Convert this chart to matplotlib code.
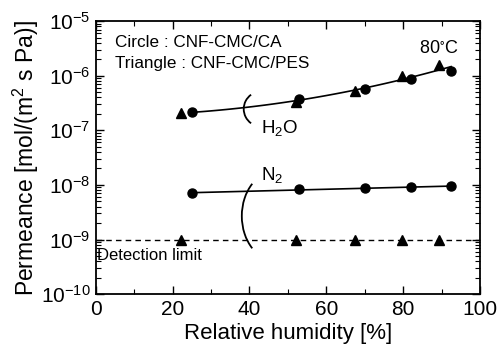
import matplotlib
matplotlib.use('Agg')
import matplotlib.pyplot as plt
from matplotlib.patches import Arc
from matplotlib.ticker import LogLocator, MultipleLocator, NullFormatter
import numpy as np

plt.rcParams['font.family'] = ['Liberation Sans', 'DejaVu Sans']
plt.rcParams['mathtext.fontset'] = 'custom'
plt.rcParams['mathtext.rm'] = 'Liberation Sans'
plt.rcParams['mathtext.it'] = 'Liberation Sans:italic'
plt.rcParams['mathtext.default'] = 'regular'

# CNF-CMC/CA (circles)
rh_ca = [25, 52.9, 70, 82, 92.5]
h2o_ca = [2.15e-7, 3.7e-7, 5.7e-7, 8.7e-7, 1.2e-6]
n2_ca = [7.1e-9, 8.3e-9, 8.7e-9, 9.0e-9, 9.5e-9]

# CNF-CMC/PES (triangles)
rh_pes = [22.1, 52, 67.5, 79.7, 89.4]
h2o_pes = [2.07e-7, 3.3e-7, 5.2e-7, 1.0e-6, 1.56e-6]
n2_pes = [1e-9, 1e-9, 1e-9, 1e-9, 1e-9]

detection_limit = 1e-9

fig = plt.figure(figsize=(5.02, 3.51), dpi=100)
ax = fig.add_axes([0.191, 0.162, 0.765, 0.778])

# 拟合曲线
x_all = np.array(rh_ca + rh_pes)
y_all = np.log10(np.array(h2o_ca + h2o_pes))
p_h2o = np.polyfit(x_all, y_all, 2)
xf = np.linspace(min(rh_ca), max(rh_ca), 100)
ax.plot(xf, 10 ** np.polyval(p_h2o, xf), color='black', lw=1.2)

p_n2 = np.polyfit(rh_ca, np.log10(n2_ca), 1)
ax.plot(xf, 10 ** np.polyval(p_n2, xf), color='black', lw=1.2)

ax.axhline(detection_limit, color='black', lw=1.0, ls=(0, (4, 3)))

ax.plot(rh_ca, h2o_ca, 'o', color='black', ms=6.5)
ax.plot(rh_pes, h2o_pes, '^', color='black', ms=7.5)
ax.plot(rh_ca, n2_ca, 'o', color='black', ms=6.5)
ax.plot(rh_pes, n2_pes, '^', color='black', ms=7.5)

# 括号
ax.add_patch(Arc((0.432, 0.678), 0.094, 0.13, theta1=118, theta2=242,
                 transform=ax.transAxes, color='black', lw=1.3))
ax.add_patch(Arc((0.47, 0.286), 0.18, 0.33, theta1=118, theta2=242,
                 transform=ax.transAxes, color='black', lw=1.3))

ax.text(0.43, 0.59, 'H$_2$O', transform=ax.transAxes, fontsize=13.5)
ax.text(0.43, 0.418, 'N$_2$', transform=ax.transAxes, fontsize=13.5)
ax.text(0.05, 0.92, 'Circle : CNF-CMC/CA', transform=ax.transAxes, fontsize=12.3, va='center')
ax.text(0.05, 0.845, 'Triangle : CNF-CMC/PES', transform=ax.transAxes, fontsize=12.3, va='center')
ax.text(0.943, 0.9, '80$^{\\circ}$C', transform=ax.transAxes, fontsize=13, ha='right', va='center')
ax.text(0.003, 0.14, 'Detection limit', transform=ax.transAxes, fontsize=12, va='center')

ax.set_yscale('log')
ax.set_xlim(0, 100)
ax.set_ylim(1e-10, 1e-5)
ax.xaxis.set_major_locator(MultipleLocator(20))
ax.xaxis.set_minor_locator(MultipleLocator(10))
ax.yaxis.set_major_locator(LogLocator(base=10, numticks=10))
ax.yaxis.set_minor_locator(LogLocator(base=10, subs=np.arange(2, 10), numticks=20))
ax.yaxis.set_minor_formatter(NullFormatter())

ax.tick_params(which='both', direction='in', top=True, right=True, labelsize=15, pad=4)
ax.tick_params(which='major', length=6, width=1.0)
ax.tick_params(which='minor', length=3.5, width=0.8)
for s in ax.spines.values():
    s.set_linewidth(1.3)

ax.set_xlabel('Relative humidity [%]', fontsize=16, labelpad=3)
ax.set_ylabel('Permeance [mol/(m$^2$ s Pa)]', fontsize=16.5, labelpad=0)

fig.savefig('out.png', dpi=100)
